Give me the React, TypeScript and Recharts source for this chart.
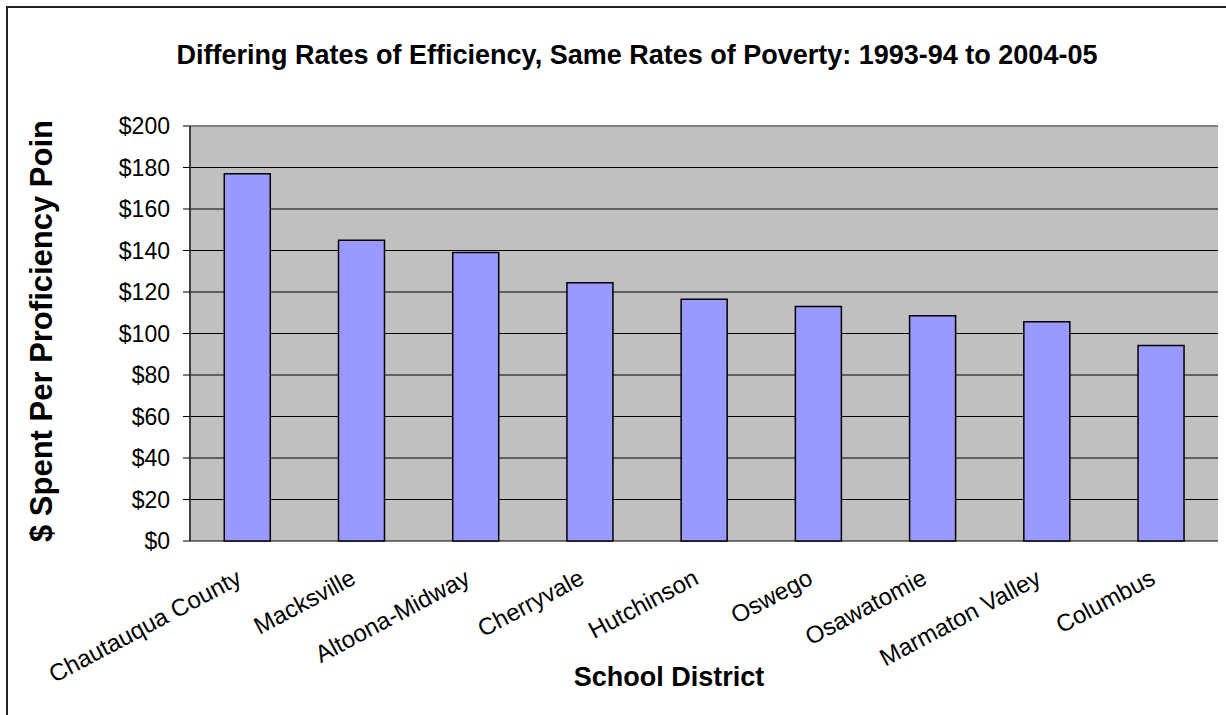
import React from 'react';
import { BarChart, Bar, XAxis, YAxis, CartesianGrid, ReferenceLine } from 'recharts';

const districts = [
  'Chautauqua County',
  'Macksville',
  'Altoona-Midway',
  'Cherryvale',
  'Hutchinson',
  'Oswego',
  'Osawatomie',
  'Marmaton Valley',
  'Columbus',
];
const spentPerPoint = [177, 145, 139, 124.5, 116.5, 113, 108.5, 105.7, 94.2];
const yTicks = [0, 20, 40, 60, 80, 100, 120, 140, 160, 180, 200];
const edgeTicks = [0, 1, 2, 3, 4, 5, 6, 7, 8, 9];

const data = districts.map((name, i) => ({ name, value: spentPerPoint[i] }));

const FONT = '"Liberation Sans", Arial, Helvetica, sans-serif';

const CategoryTick = (props: any) => {
  const { x, y, payload } = props;
  const ax = x - 4;
  const ay = y + 42;
  return (
    <text
      x={ax}
      y={ay}
      transform={`rotate(-28 ${ax} ${ay})`}
      textAnchor="end"
      fontSize={24}
      fontFamily={FONT}
      fill="#000"
    >
      {payload.value}
    </text>
  );
};

export default function App() {
  return (
    <div style={{ position: 'absolute', left: 0, top: 0, width: 1226, height: 715, background: '#fff', fontFamily: FONT }}>
      {/* outer frame, only the top/left edges are inside the picture */}
      <div
        style={{
          position: 'absolute',
          left: 6,
          top: 6,
          width: 1220,
          height: 709,
          borderLeft: '2px solid #222',
          borderTop: '2px solid #222',
        }}
      />
      <div
        style={{
          position: 'absolute',
          left: 637,
          top: 55,
          transform: 'translate(-50%, -50%)',
          whiteSpace: 'nowrap',
          fontWeight: 'bold',
          fontSize: 27,
          color: '#000',
        }}
      >
        Differing Rates of Efficiency, Same Rates of Poverty: 1993-94 to 2004-05
      </div>
      <div
        style={{
          position: 'absolute',
          left: 42,
          top: 331,
          transform: 'translate(-50%, -50%) rotate(-90deg)',
          whiteSpace: 'nowrap',
          fontWeight: 'bold',
          fontSize: 31,
          color: '#000',
        }}
      >
        $ Spent Per Proficiency Poin
      </div>
      <div
        style={{
          position: 'absolute',
          left: 669,
          top: 677,
          transform: 'translate(-50%, -50%)',
          whiteSpace: 'nowrap',
          fontWeight: 'bold',
          fontSize: 27,
          color: '#000',
        }}
      >
        School District
      </div>
      <div style={{ position: 'absolute', left: 0, top: 0 }}>
        <BarChart
          width={1226}
          height={715}
          data={data}
          margin={{ top: 126, right: 8, bottom: 0, left: 110 }}
          barCategoryGap="30%"
        >
          <CartesianGrid vertical={false} stroke="#000" fill="#C0C0C0" fillOpacity={1} yAxisId="left" />
          <XAxis
            xAxisId="edges"
            type="number"
            domain={[0, 9]}
            ticks={edgeTicks}
            interval={0}
            height={0}
            tick={false}
            tickSize={7}
            tickLine={{ stroke: '#000' }}
            axisLine={{ stroke: '#000', strokeWidth: 1.5 }}
            allowDataOverflow
          />
          <XAxis
            xAxisId="cat"
            dataKey="name"
            height={174}
            interval={0}
            axisLine={false}
            tickLine={false}
            tickSize={0}
            tickMargin={0}
            tick={<CategoryTick />}
          />
          <YAxis
            yAxisId="left"
            width={80}
            domain={[0, 200]}
            ticks={yTicks}
            interval={0}
            tickSize={7}
            tickMargin={13}
            tickFormatter={(v: number) => `$${v}`}
            tick={{ fontSize: 23, fontFamily: FONT, fill: '#000' }}
            tickLine={{ stroke: '#000' }}
            axisLine={{ stroke: '#404040', strokeWidth: 2 }}
          />
          <YAxis
            yAxisId="right"
            orientation="right"
            width={0}
            domain={[0, 200]}
            tick={false}
            tickLine={false}
            axisLine={{ stroke: '#808080', strokeWidth: 2 }}
          />
          <ReferenceLine yAxisId="left" xAxisId="cat" y={200} stroke="#808080" strokeWidth={2} />
          <Bar
            dataKey="value"
            xAxisId="cat"
            yAxisId="left"
            fill="#9999FF"
            stroke="#000"
            strokeWidth={1.5}
            isAnimationActive={false}
          />
        </BarChart>
      </div>
    </div>
  );
}
